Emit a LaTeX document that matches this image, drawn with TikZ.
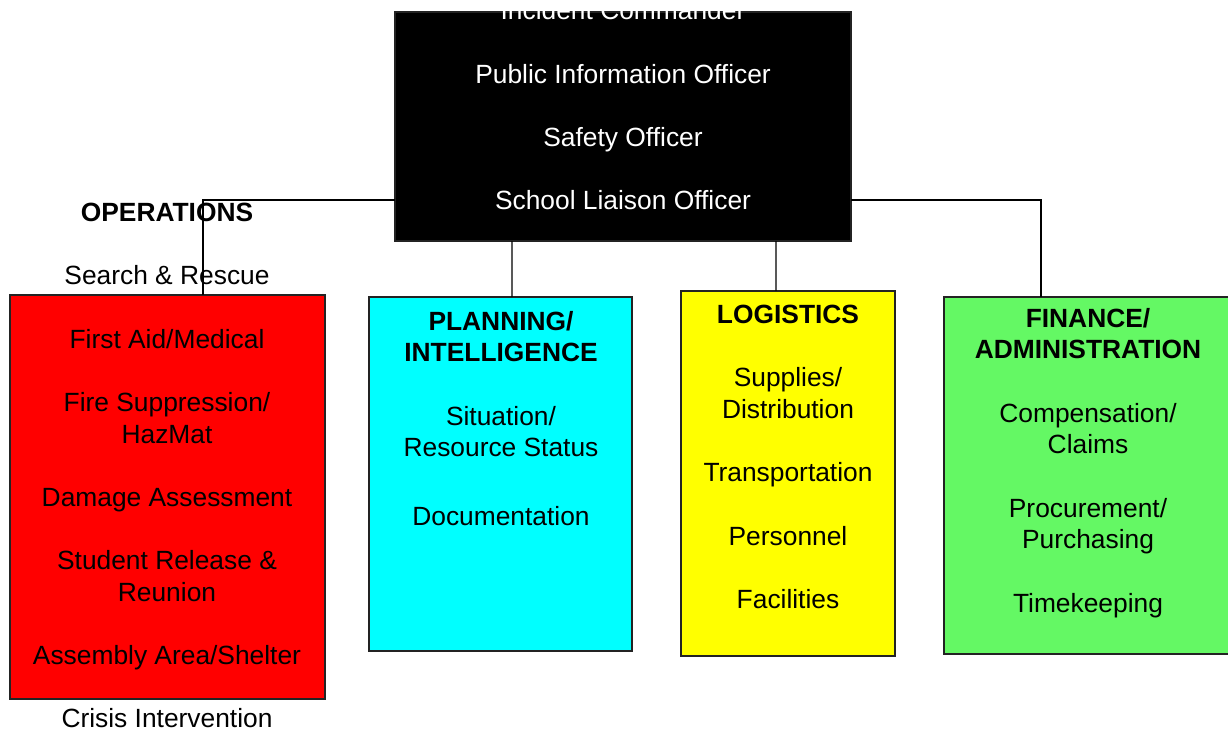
\documentclass[tikz,border=0pt]{standalone}
\usepackage{fontspec}
\setmainfont{Liberation Sans}
\usetikzlibrary{calc}
\definecolor{icsred}{RGB}{255,0,0}
\definecolor{icscyan}{RGB}{0,255,255}
\definecolor{icsyellow}{RGB}{255,255,0}
\definecolor{icsgreen}{RGB}{100,248,100}
\definecolor{icsline}{RGB}{35,35,35}
\tikzstyle{section} = [rectangle, draw=icsline, line width=0.9pt, inner sep=0pt, outer sep=0pt]
\tikzstyle{roles} = [align=center, anchor=north, inner sep=0pt, text=black, font=\fontsize{22.5}{27}\selectfont]
\tikzstyle{link} = [draw=black, line width=0.9pt]

\begin{document}
\begin{tikzpicture}[x=0.03cm, y=-0.03cm]
    \useasboundingbox (0,0) rectangle (1228,730);

    % Boxes
    \node[section, fill=black, minimum width=13.68cm, minimum height=6.87cm] (cmd) at (623,126.5) {};
    \node[section, fill=icsred, minimum width=9.45cm, minimum height=12.12cm] (ops) at (167.5,497) {};
    \node[section, fill=icscyan, minimum width=7.89cm, minimum height=10.62cm] (plan) at (500.5,474) {};
    \node[section, fill=icsyellow, minimum width=6.42cm, minimum height=10.95cm] (logi) at (788,473.5) {};
    \node[section, fill=icsgreen, minimum width=8.76cm, minimum height=10.71cm] (fin) at (1090,475.5) {};

    % Texts
    \node[roles, text=white] (cmdtext) at (623,0.5) {Incident Commander\\[27pt]Public Information Officer\\[27pt]Safety Officer\\[27pt]School Liaison Officer};
    \node[roles] (opstext) at (167,203) {\textbf{OPERATIONS}\\[27pt]Search \& Rescue\\[27pt]First Aid/Medical\\[27pt]Fire Suppression/\\HazMat\\[27pt]Damage Assessment\\[27pt]Student Release \&\\Reunion\\[27pt]Assembly Area/Shelter\\[27pt]Crisis Intervention};
    \node[roles] (plantext) at (501,311) {\textbf{PLANNING/}\\\textbf{INTELLIGENCE}\\[27pt]Situation/\\Resource Status\\[32pt]Documentation};
    \node[roles] (logitext) at (788,305) {\textbf{LOGISTICS}\\[27pt]Supplies/\\Distribution\\[27pt]Transportation\\[27pt]Personnel\\[27pt]Facilities};
    \node[roles] (fintext) at (1088,308) {\textbf{FINANCE/}\\\textbf{ADMINISTRATION}\\[27pt]Compensation/\\Claims\\[27pt]Procurement/\\Purchasing\\[27pt]Timekeeping};

    % Connectors
    \draw[link] ($(cmd.south west)+(0,-41)$) -| ($(ops.north west)+(193,0)$);
    \draw[link] ($(cmd.south west)+(117,0)$) -- ($(plan.north west)+(143,0)$);
    \draw[link] ($(cmd.south west)+(381,0)$) -- ($(logi.north west)+(95,0)$);
    \draw[link] ($(cmd.south east)+(0,-41)$) -| ($(fin.north west)+(97,0)$);
\end{tikzpicture}
\end{document}
